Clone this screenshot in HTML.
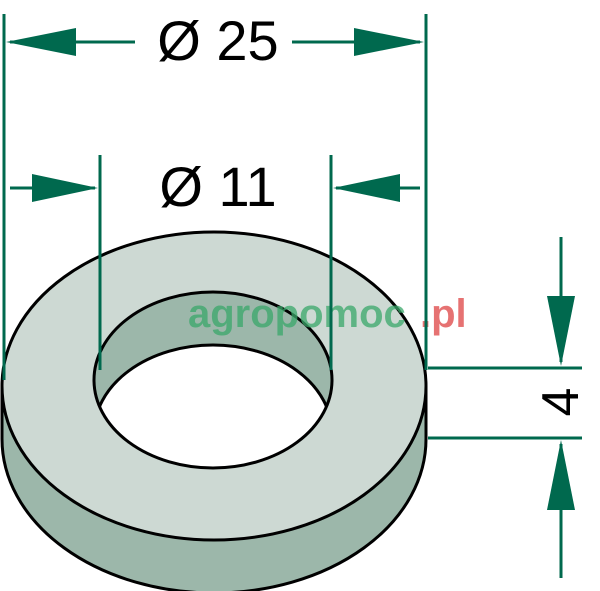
<!DOCTYPE html>
<html><head><style>body{margin:0;background:#fff}svg{display:block}</style></head><body>
<svg width="600" height="591" viewBox="0 0 600 591" xmlns="http://www.w3.org/2000/svg">
<defs><clipPath id="h"><ellipse cx="213" cy="380" rx="119" ry="88"/></clipPath></defs>
<ellipse cx="214" cy="439" rx="212" ry="154" fill="#9cb7aa" stroke="#000" stroke-width="3"/>
<rect x="2" y="386" width="424" height="53" fill="#9cb7aa"/>
<line x1="2" y1="386" x2="2" y2="439" stroke="#000" stroke-width="3"/>
<line x1="426" y1="386" x2="426" y2="439" stroke="#000" stroke-width="3"/>
<ellipse cx="214" cy="386" rx="212" ry="154" fill="#cdd9d3" stroke="#000" stroke-width="3"/>
<ellipse cx="213" cy="380" rx="119" ry="88" fill="#9cb7aa"/>
<ellipse cx="213" cy="433" rx="119" ry="88" fill="#fff" stroke="#000" stroke-width="3" clip-path="url(#h)"/>
<ellipse cx="213" cy="380" rx="119" ry="88" fill="none" stroke="#000" stroke-width="3"/>
<text x="188" y="327" font-family="Liberation Sans, sans-serif" font-weight="bold" font-size="40" fill="#3aa86a" opacity="0.75">agropomoc</text>
<text x="420" y="327" font-family="Liberation Sans, sans-serif" font-weight="bold" font-size="40" fill="#e05050" opacity="0.8">.pl</text>
<g stroke="#00694e" stroke-width="3" fill="#00694e">
<line x1="4" y1="14" x2="4" y2="380"/>
<line x1="426" y1="14" x2="426" y2="370"/>
<line x1="100" y1="155" x2="100" y2="370"/>
<line x1="331" y1="155" x2="331" y2="370"/>
<line x1="10" y1="42" x2="135" y2="42"/>
<line x1="292" y1="42" x2="420" y2="42"/>
<line x1="10" y1="188" x2="95" y2="188"/>
<line x1="336" y1="188" x2="420" y2="188"/>
<line x1="428" y1="368" x2="582" y2="368"/>
<line x1="428" y1="438" x2="582" y2="438"/>
<line x1="561" y1="237" x2="561" y2="362"/>
<line x1="561" y1="444" x2="561" y2="578"/>
<polygon stroke="none" points="6,42 76,28 76,56"/>
<polygon stroke="none" points="424,42 354,28 354,56"/>
<polygon stroke="none" points="98,188 32,174 32,202"/>
<polygon stroke="none" points="333,188 400,174 400,202"/>
<polygon stroke="none" points="561,366 547,296 575,296"/>
<polygon stroke="none" points="561,440 547,510 575,510"/>
</g>
<g font-family="Liberation Sans, sans-serif" font-size="56" fill="#000" text-anchor="middle">
<text x="218" y="60">Ø 25</text>
<text x="218" y="206">Ø 11</text>
<text transform="translate(578,402) rotate(-90)" font-size="52">4</text>
</g>
</svg>
</body></html>
